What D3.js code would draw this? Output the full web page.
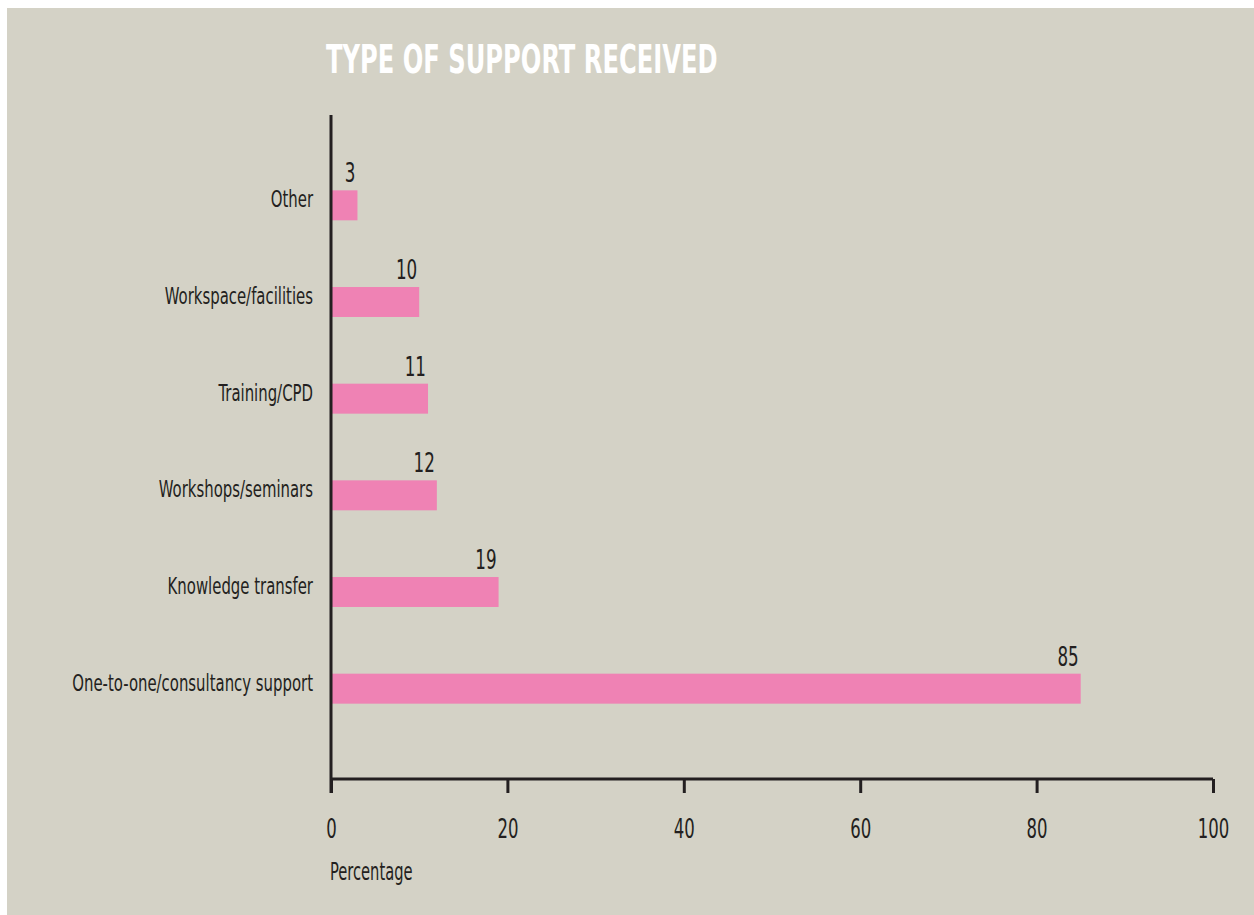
<!DOCTYPE html>
<html>
<head>
<meta charset="utf-8">
<script src="https://cdn.jsdelivr.net/npm/d3@7"></script>
<style>
  html, body { margin: 0; padding: 0; background: #ffffff; }
  svg { display: block; }
  .cond { font-family: "Liberation Sans Narrow", "DejaVu Sans Condensed", "Arial Narrow", sans-serif; font-stretch: condensed; }
</style>
</head>
<body>
<svg id="chart" width="1254" height="915"></svg>
<script>
// Survey responses: type of support received (percentage of respondents)
const categories = [
  "Other",
  "Workspace/facilities",
  "Training/CPD",
  "Workshops/seminars",
  "Knowledge transfer",
  "One-to-one/consultancy support"
];
const values = [3, 10, 11, 12, 19, 85];
const xTicks = [0, 20, 40, 60, 80, 100];

const title = "TYPE OF SUPPORT RECEIVED";
const xTitle = "Percentage";

const W = 1254, H = 915;
const ink = "#231f20";
const svg = d3.select("#chart");

// narrow the installed condensed face further, anchored at (px, py)
function squeeze(sel, px, py, sx) {
  sel.attr("x", 0).attr("y", 0)
     .attr("transform", (d, i) => {
       const ax = typeof px === "function" ? px(d, i) : px;
       const ay = typeof py === "function" ? py(d, i) : py;
       return `translate(${ax},${ay}) scale(${sx},1)`;
     });
  return sel;
}

// panel background
svg.append("rect")
  .attr("x", 7).attr("y", 8)
  .attr("width", W - 7).attr("height", H - 8)
  .attr("fill", "#d4d2c6");

const x = d3.scaleLinear().domain([0, 100]).range([331, 1213]);
const y = d3.scaleBand()
  .domain(categories)
  .range([157, 737])
  .paddingInner(0.69)
  .paddingOuter(0.345);

const axisY = 779;

// bars
svg.append("g").selectAll("rect")
  .data(categories)
  .join("rect")
  .attr("x", x(0))
  .attr("y", d => y(d))
  .attr("width", (d, i) => x(values[i]) - x(0))
  .attr("height", y.bandwidth())
  .attr("fill", "#ef82b4");

// value labels above bars
svg.append("g").attr("class", "cond").selectAll("text")
  .data(categories)
  .join("text")
  .attr("text-anchor", "end")
  .attr("font-size", 27)
  .attr("fill", ink)
  .text((d, i) => values[i])
  .call(squeeze, (d, i) => x(values[i]) - 2, d => y(d) - 8, 0.69);

// category labels, cap line level with the bar top
svg.append("g").attr("class", "cond").selectAll("text")
  .data(categories)
  .join("text")
  .attr("text-anchor", "end")
  .attr("font-size", 23)
  .attr("fill", ink)
  .text(d => d)
  .call(squeeze, 313, d => y(d) + 17, 0.72);

// x axis
const xAxis = d3.axisBottom(x)
  .tickValues(xTicks)
  .tickSize(14)
  .tickPadding(26)
  .tickFormat(d3.format("d"));

const gx = svg.append("g")
  .attr("transform", `translate(0,${axisY})`)
  .call(xAxis);
gx.select(".domain").remove();
gx.append("line")
  .attr("x1", x(0)).attr("x2", x(100))
  .attr("y1", 0).attr("y2", 0)
  .attr("stroke", ink).attr("stroke-width", 3);
gx.selectAll(".tick line").attr("stroke", ink).attr("stroke-width", 3);
gx.selectAll(".tick text")
  .attr("class", "cond")
  .attr("font-size", 27)
  .attr("fill", ink)
  .attr("transform", "scale(0.68,1)");

// y axis spine
svg.append("line")
  .attr("x1", x(0)).attr("x2", x(0))
  .attr("y1", 115).attr("y2", axisY + 14)
  .attr("stroke", ink).attr("stroke-width", 3);

// axis title
svg.append("text")
  .attr("class", "cond")
  .attr("font-size", 24)
  .attr("fill", ink)
  .text(xTitle)
  .call(squeeze, 330, 880, 0.68);

// chart title
svg.append("text")
  .attr("class", "cond")
  .attr("font-size", 39)
  .attr("font-weight", "bold")
  .attr("fill", "#ffffff")
  .text(title)
  .call(squeeze, 326, 73, 0.69);
</script>
</body>
</html>
